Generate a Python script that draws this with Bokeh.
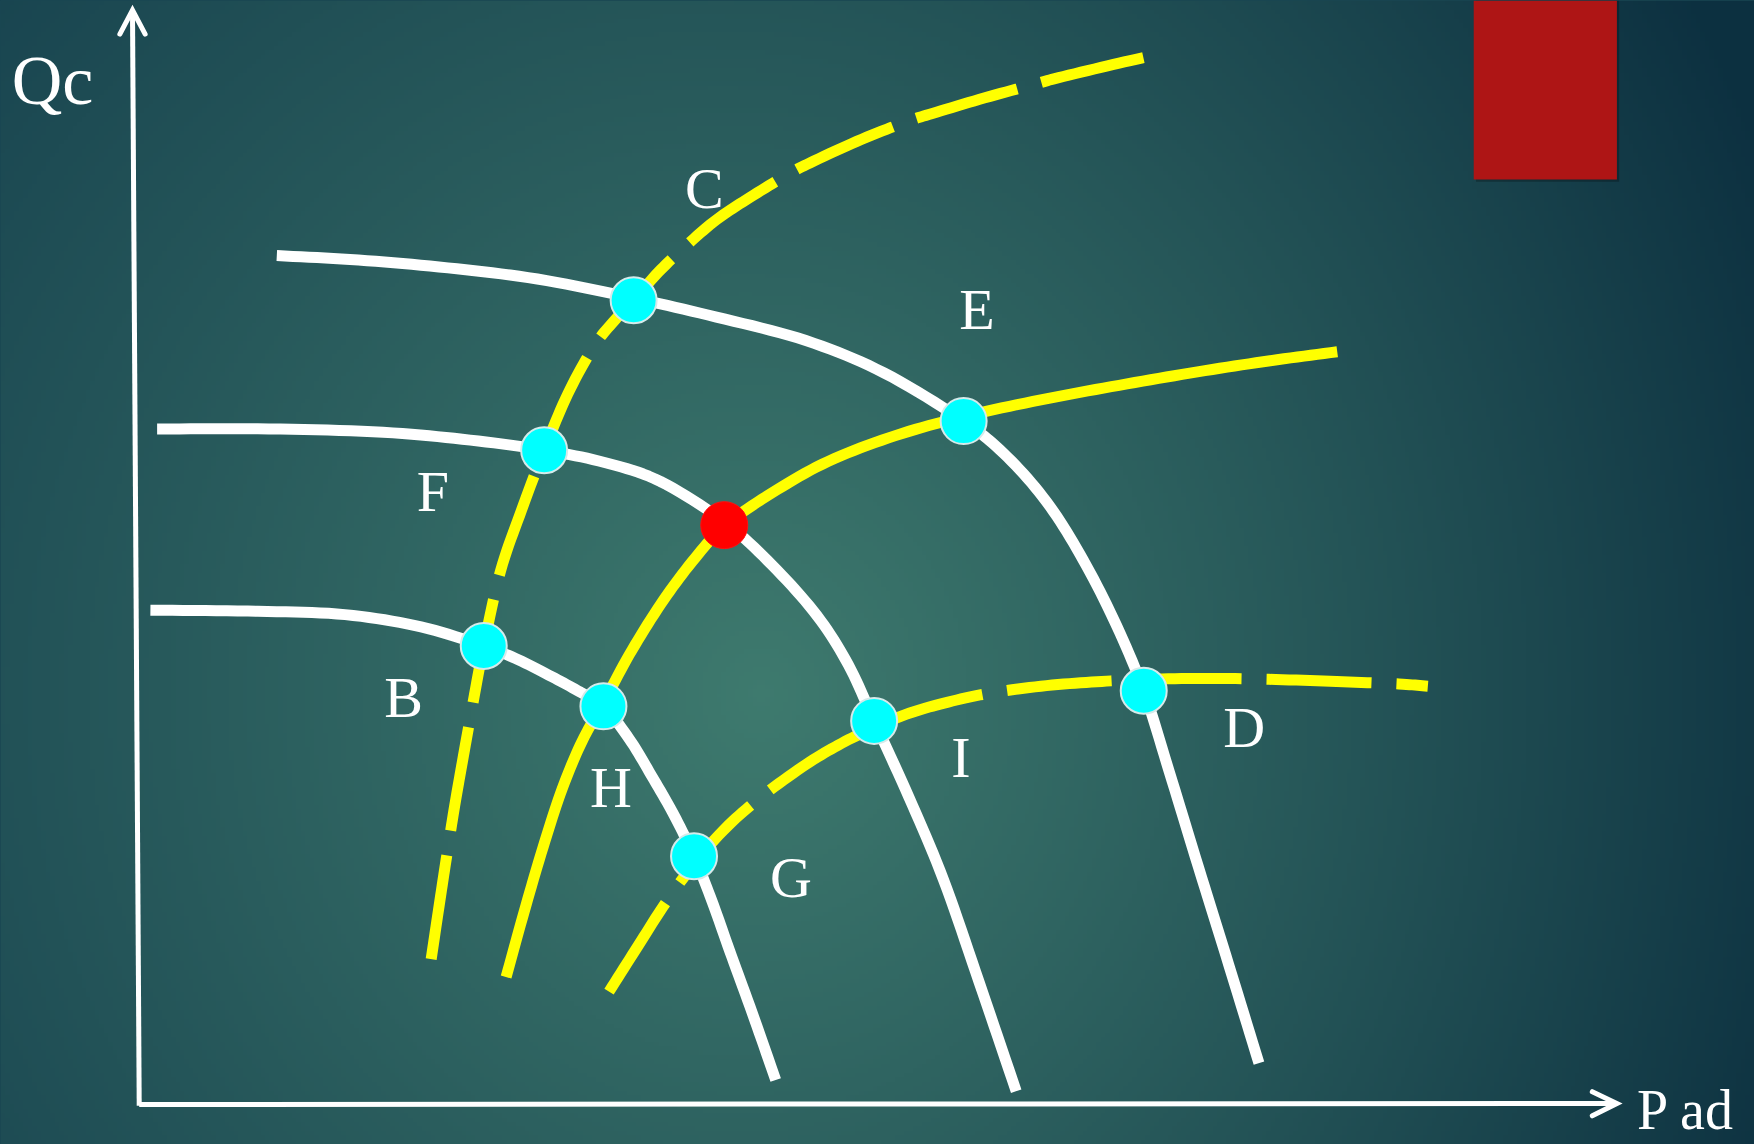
import numpy as np
from bokeh.plotting import figure
from bokeh.models import Range1d
from bokeh.embed import file_html
from bokeh.resources import INLINE
from bokeh.core.properties import value

# ---- diagram data (reference grid units, 1568 x 1023, y downwards) ----
IMG_W, IMG_H = 1568, 1023

# white curves
white_top_x = [247, 320, 400, 480, 566, 640, 720, 790, 861, 900, 935, 965, 995, 1022, 1045, 1071, 1098, 1125]
white_top_y = [228, 232, 239, 249, 266, 283, 304, 333, 376, 408, 448, 495, 553, 617, 690, 775, 862, 950]

white_mid_x = [140, 240, 342, 420, 486, 540, 590, 647, 690, 730, 758, 781, 812, 843, 875, 908]
white_mid_y = [383, 383, 386, 393, 402, 413, 430, 466, 505, 550, 594, 644, 712, 786, 878, 975]

white_low_x = [134, 230, 308, 376, 432, 460, 490, 516, 539, 562, 582, 602, 620, 636, 652, 672, 693]
white_low_y = [545, 546, 549, 560, 577, 588, 603, 617, 631, 660, 693, 728, 765, 805, 850, 905, 965]

# yellow curves (dashed: A and C, solid: B)
yel_a_x = [385, 392, 399, 406, 413, 422, 432, 447, 466, 486, 507, 530, 548, 566, 588, 612, 640, 670, 703, 724, 770, 811, 833, 880, 924, 946, 1000, 1040]
yel_a_y = [857, 810, 764, 720, 680, 630, 577, 510, 455, 402, 352, 310, 287, 268, 243, 220, 196, 176, 156, 145, 124, 108, 101, 87, 75, 69, 56, 47]

yel_b_x = [452, 468, 485, 502, 520, 539, 562, 590, 618, 647, 690, 740, 800, 861, 930, 1000, 1070, 1135, 1195]
yel_b_y = [873, 815, 757, 705, 662, 628, 585, 540, 502, 470, 440, 412, 389, 372, 357, 344, 332, 322, 314]

yel_c_x = [544, 570, 595, 620, 648, 680, 720, 752, 781, 810, 840, 880, 930, 980, 1022, 1080, 1140, 1200, 1250, 1276]
yel_c_y = [886, 845, 806, 772, 740, 712, 683, 664, 650, 638, 629, 620, 613, 609, 607, 606, 607, 609, 611, 613]

# intersection points
cyan_names = ["C", "F", "B", "H", "G", "I", "D", "E"]
cyan_x = [566, 486, 432, 539, 620, 781, 1022, 861]
cyan_y = [268, 402, 577, 631, 765, 644, 617, 376]
red_x = [647]
red_y = [469]

# point labels (x = left edge, y = baseline in the reference)
label_text = ["C", "E", "F", "B", "H", "G", "I", "D"]
label_x = [612, 857, 372, 343, 527, 688, 850, 1093]
label_y = [186, 294, 457, 641, 722, 802, 695, 668]

# axes
yaxis_x = [124, 118]
yaxis_y = [988, 9]
yarrow_x = [106.7, 118, 129.3]
yarrow_y = [30, 8.5, 30]
xaxis_x = [124, 1444]
xaxis_y = [987, 986]
xarrow_x = [1423, 1445, 1423]
xarrow_y = [975.5, 986, 997]
axis_titles = ["Qc", "P ad"]
axis_title_x = [10, 1463]
axis_title_y = [93, 1009]

# red block top right
block_left, block_right, block_top, block_bottom = 1317, 1445, 0, 160

# baseline correction of the svg text placement, as a fraction of the font size
BASE_SHIFT = 0.35


def smooth(xs, ys, n=10):
    """Catmull-Rom path through the read points (for drawing only)."""
    P = np.column_stack([xs, ys]).astype(float)
    P = np.vstack([2 * P[0] - P[1], P, 2 * P[-1] - P[-2]])
    out = []
    for i in range(1, len(P) - 2):
        p0, p1, p2, p3 = P[i - 1], P[i], P[i + 1], P[i + 2]
        for t in np.linspace(0, 1, n, endpoint=False):
            t2, t3 = t * t, t * t * t
            out.append(0.5 * (2 * p1 + (-p0 + p2) * t
                              + (2 * p0 - 5 * p1 + 4 * p2 - p3) * t2
                              + (-p0 + 3 * p1 - 3 * p2 + p3) * t3))
    out.append(P[-2])
    out = np.array(out)
    return out[:, 0], out[:, 1]


# ---- figure ----
S = 1754 / 1568
p = figure(width=1754, height=1144, output_backend="svg", toolbar_location=None,
           x_range=Range1d(0, IMG_W), y_range=Range1d(1144 / S, 0),
           min_border=0)
p.axis.visible = False
p.grid.visible = False
p.outline_line_color = None
p.background_fill_color = "#1d4f58"
p.border_fill_color = "#1d4f58"

# background radial gradient
ny, nx = 256, 392
ys = (np.arange(ny) + 0.5) * IMG_H / ny
xs = (np.arange(nx) + 0.5) * IMG_W / nx
X, Y = np.meshgrid(xs, ys)
t = np.clip(np.sqrt(((X - 680) / 1000) ** 2 + ((Y - 620) / 1100) ** 2), 0, 1)
u = (X / IMG_W)[..., None]
center = np.array([62, 122, 110], dtype=float)
eL = np.array([20, 62, 76], dtype=float)
eR = np.array([12, 48, 64], dtype=float)
edge = eL * (1 - u) + eR * u
col = center * (1 - t[..., None]) + edge * t[..., None]
img = np.empty((ny, nx), dtype=np.uint32)
view = img.view(dtype=np.uint8).reshape((ny, nx, 4))
view[..., 0:3] = np.round(col).astype(np.uint8)
view[..., 3] = 255
p.image_rgba(image=[img], x=0, y=0, dw=IMG_W, dh=IMG_H)

# red block
p.quad(left=block_left + 2, right=block_right + 2, top=block_top, bottom=block_bottom + 2,
       fill_color="black", fill_alpha=0.25, line_color=None)
p.quad(left=block_left, right=block_right, top=block_top, bottom=block_bottom,
       fill_color="#ae1515", line_color=None)

# axes
for xx, yy in [(yaxis_x, yaxis_y), (xaxis_x, xaxis_y)]:
    p.line(xx, yy, line_color="white", line_width=5)
for xx, yy in [(yarrow_x, yarrow_y), (xarrow_x, xarrow_y)]:
    p.line(xx, yy, line_color="white", line_width=5, line_cap="round", line_join="miter")

# white curves
for xx, yy in [(white_top_x, white_top_y), (white_mid_x, white_mid_y), (white_low_x, white_low_y)]:
    sx, sy = smooth(xx, yy)
    p.line(sx, sy, line_color="white", line_width=11, line_join="round")

# yellow curves
sx, sy = smooth(yel_a_x, yel_a_y)
p.line(sx, sy, line_color="#ffff00", line_width=11, line_dash="105 25", line_join="round")
sx, sy = smooth(yel_b_x, yel_b_y)
p.line(sx, sy, line_color="#ffff00", line_width=11, line_join="round")
sx, sy = smooth(yel_c_x, yel_c_y)
p.line(sx, sy, line_color="#ffff00", line_width=11, line_dash="105 25", line_join="round")

# points
p.scatter(cyan_x, cyan_y, size=46, fill_color="#00ffff", line_color="#d5eaea", line_width=2)
p.scatter(red_x, red_y, size=47, fill_color="#ff0000", line_color="#ff1010", line_width=1)


def add_text(xs_, ys_, texts, size_px):
    shift = BASE_SHIFT * size_px / S
    p.text(xs_, [v - shift for v in ys_], text=texts, text_font=value("Liberation Serif"),
           text_font_size=f"{size_px}px", text_color="white",
           text_baseline="alphabetic", text_align="left")


add_text(label_x, label_y, label_text, 58)
add_text(axis_title_x[:1], axis_title_y[:1], axis_titles[:1], 70)
add_text(axis_title_x[1:], axis_title_y[1:], axis_titles[1:], 56)

html = file_html(p, INLINE)
html = html.replace("<head>", "<head><style>html,body{margin:0;padding:0;overflow:hidden;background:#163f4c;}</style>", 1)
open("out.html", "w").write(html)
